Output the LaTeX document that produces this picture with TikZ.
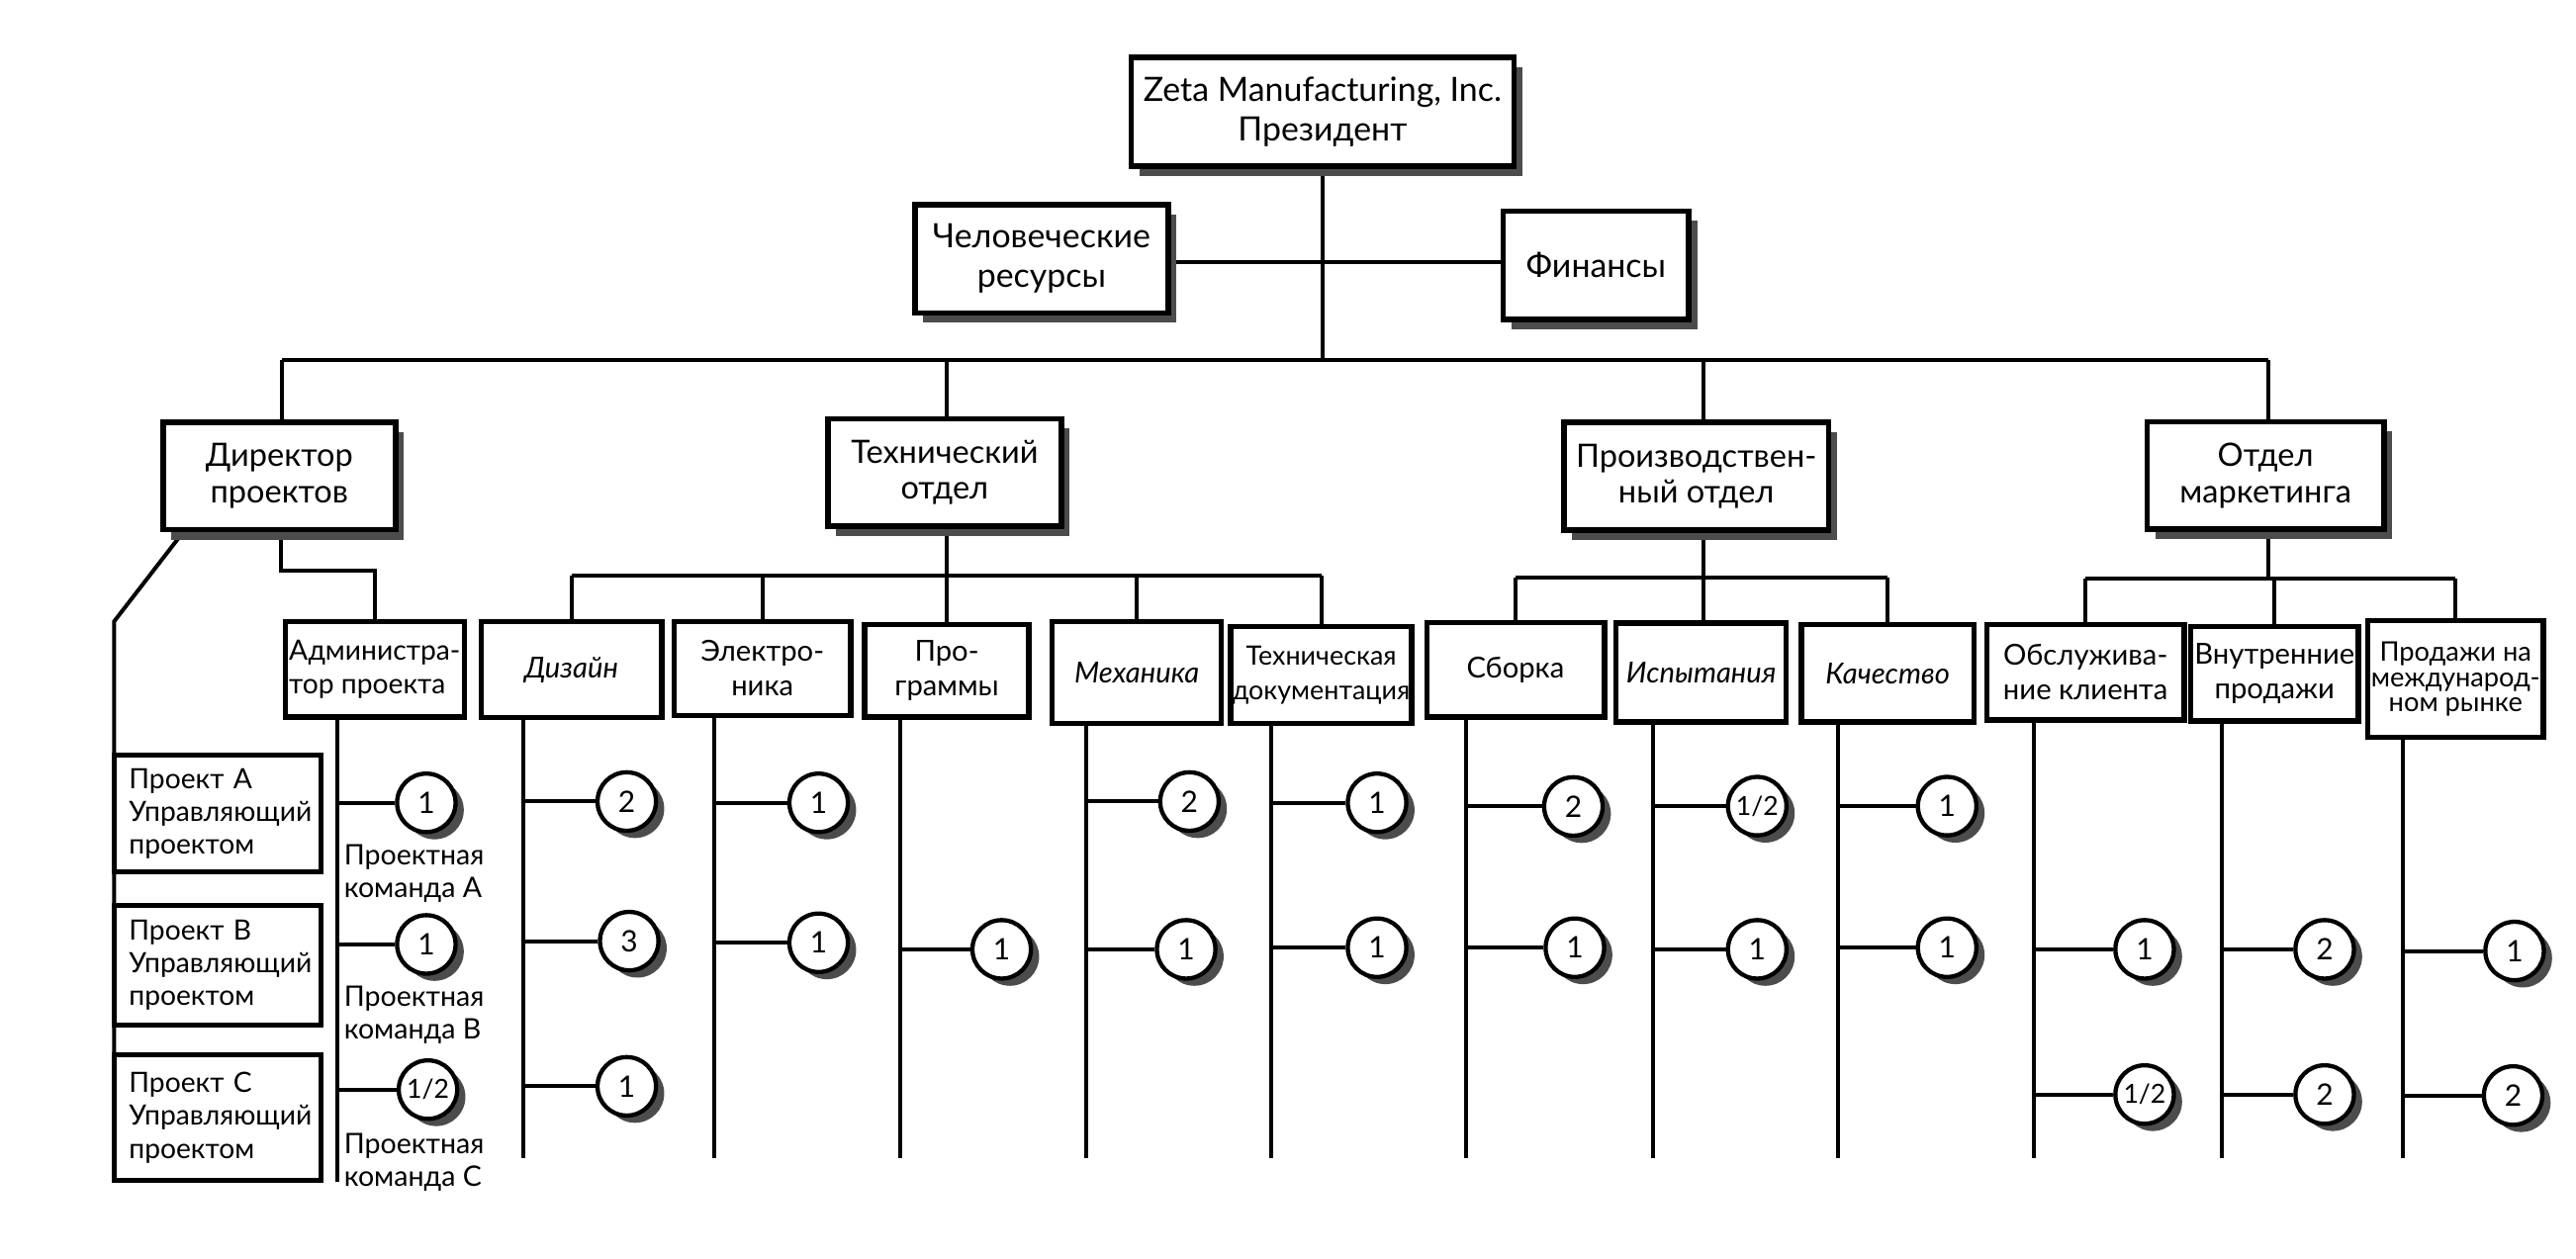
\documentclass[tikz,border=0pt]{standalone}
\usepackage{fontspec}
\setmainfont{Lato}
\usetikzlibrary{shadows}
\pgfdeclarelayer{bg}
\pgfsetlayers{bg,main}
\begin{document}
\begin{tikzpicture}[x=0.5pt,y=-0.5pt,
  conn/.style={line width=1.2pt},
  sz/.style 2 args={minimum width=#1*0.5pt, minimum height=#2*0.5pt},
  shad/.style={drop shadow={shadow xshift=2.5pt, shadow yshift=-3pt, fill=black!70, opacity=1}},
  boxA/.style={draw, line width=1.7pt, fill=white, align=center, inner sep=0pt, font=\fontsize{10.2}{12}\selectfont, shad},
  boxB/.style={draw, line width=1.7pt, fill=white, align=center, inner sep=0pt, font=\fontsize{9.8}{11}\selectfont, shad},
  boxC/.style={draw, line width=1.6pt, fill=white, align=center, inner sep=0pt, font=\fontsize{8.8}{10.5}\selectfont},
  proj/.style={draw, line width=1.5pt, fill=white, align=left, inner xsep=4.5pt, inner ysep=0pt, text width=54pt, font=\fontsize{8.5}{10}\selectfont},
  num/.style={circle, draw, line width=1.3pt, fill=white, minimum size=17.8pt, inner sep=0pt, font=\fontsize{9}{9}\selectfont, drop shadow={shadow xshift=2.5pt, shadow yshift=-2.2pt, fill=black!70, opacity=1}},
  half/.style={num, font=\fontsize{8}{8}\selectfont},
  lbl/.style={align=left, inner sep=0pt, font=\fontsize{8.6}{10}\selectfont}
]
\useasboundingbox (0,0) rectangle (1568,766);

% level 1
\node[boxA, sz={233}{66}] (pres) at (805,68) {Zeta Manufacturing, Inc.\\Президент};
\node[boxA, sz={154}{66}] (hr) at (634,157.5) {Человеческие\\ресурсы};
\node[boxA, sz={113}{66}] (fin) at (971.5,161.5) {Финансы};

% level 2
\node[boxB, sz={141.5}{65.5}] (dir) at (170,289.75) {Директор\\проектов};
\node[boxB, sz={142}{65.5}] (tech) at (575,287.75) {Технический\\отдел};
\node[boxB, sz={161}{65.5}] (prod) at (1032.5,290) {Производствен-\\ный отдел};
\node[boxB, sz={144}{65.5}] (mkt) at (1379,289.5) {Отдел\\маркетинга};

% level 3
\node[boxC, align=left, sz={108.8}{58.2}, font=\fontsize{8.5}{10.5}\selectfont] (ad) at (228.1,407.5) {Администра-\\тор проекта};
\node[boxC, sz={110}{58.6}, font=\fontsize{8.8}{10.5}\selectfont\itshape] (dz) at (347.8,407.7) {Дизайн};
\node[boxC, sz={107.6}{57.2}] (el) at (464.1,407) {Электро-\\ника};
\node[boxC, sz={100}{56.2}] (pg) at (576.3,408.5) {Про-\\граммы};
\node[boxC, sz={103}{62.2}, font=\fontsize{8.8}{10.5}\selectfont\itshape] (mc) at (692,409.5) {Механика};
\node[boxC, sz={110.2}{59.2}, font=\fontsize{8.1}{10.5}\selectfont] (td) at (804.2,411) {Техническая\\документация};
\node[boxC, sz={108.2}{57.6}] (sb) at (922.5,407.8) {Сборка};
\node[boxC, sz={103.7}{60.2}, font=\fontsize{8.8}{10.5}\selectfont\itshape] (is) at (1035.5,409.5) {Испытания};
\node[boxC, sz={105}{59.2}, font=\fontsize{8.8}{10.5}\selectfont\itshape] (kc) at (1149,410) {Качество};
\node[boxC, sz={120.2}{58}] (ob) at (1269.4,409.4) {Обслужива-\\ние клиента};
\node[boxC, sz={102.2}{57.6}] (vn) at (1384.5,410.2) {Внутренние\\продажи};
\node[boxC, sz={106.9}{71.2}, font=\fontsize{8.2}{7.6}\selectfont] (pr) at (1494.7,413.5) {Продажи на\\международ-\\ном рынке};

% project manager boxes
\node[proj, minimum height=35.65pt] (pa) at (132.5,495.3) {Проект A\\Управляющий\\проектом};
\node[proj, minimum height=36.6pt] (pb) at (132.5,587.6) {Проект B\\Управляющий\\проектом};
\node[proj, minimum height=38.15pt] (pc) at (132.5,680.5) {Проект C\\Управляющий\\проектом};

% team labels
\node[lbl, anchor=north west] (la) at (209,514) {Проектная\\команда A};
\node[lbl, anchor=north west] (lb) at (209,600) {Проектная\\команда B};
\node[lbl, anchor=north west] (lc) at (209,689.4) {Проектная\\команда C};

% circles
\node[num] (a1) at (259.5,488.8) {1};
\node[num] (a2) at (259.5,575) {1};
\node[half] (a3) at (260.5,663.4) {1/2};
\node[num] (d1) at (381.5,488) {2};
\node[num] (d2) at (383,573) {3};
\node[num] (d3) at (381.5,661.4) {1};
\node[num] (e1) at (498.3,488.8) {1};
\node[num] (e2) at (498.3,574) {1};
\node[num] (p1) at (609.7,578) {1};
\node[num] (m1) at (724,488) {2};
\node[num] (m2) at (722,578) {1};
\node[num] (t1) at (838.2,488.8) {1};
\node[num] (t2) at (838.2,577) {1};
\node[num] (s1) at (957.7,491) {2};
\node[num] (s2) at (958.6,577) {1};
\node[half] (i1) at (1069.6,490.8) {1/2};
\node[num] (i2) at (1069.6,578) {1};
\node[num] (k1) at (1185.2,490.8) {1};
\node[num] (k2) at (1185.2,577) {1};
\node[num] (o1) at (1305.4,578) {1};
\node[half] (o2) at (1305.4,666.4) {1/2};
\node[num] (v1) at (1415,578) {2};
\node[num] (v2) at (1415,666.4) {2};
\node[num] (r1) at (1530.6,579) {1};
\node[num] (r2) at (1529.7,667) {2};

% coordinates
\coordinate (bus) at (805,219);
\coordinate (b1) at (171.6,219);
\coordinate (b2) at (576,219);
\coordinate (b3) at (1036.6,219);
\coordinate (b4) at (1381,219);
\coordinate (hf) at (805,159.6);
\coordinate (tb) at (576,350.7);
\coordinate (pbus) at (1036.6,351.7);
\coordinate (mb) at (1381,352.3);
\coordinate (ds) at (171.2,347.2);
\coordinate (dg) at (111.3,330);
\coordinate (pl) at (69.5,378.3);
\coordinate (adE) at (205.5,719.6);
\coordinate (dzE) at (318.5,705);
\coordinate (elE) at (434.5,705);
\coordinate (pgE) at (548,705);
\coordinate (mcE) at (661,705);
\coordinate (tdE) at (773.5,705);
\coordinate (sbE) at (892.5,705);
\coordinate (isE) at (1006,705);
\coordinate (kcE) at (1119,705);
\coordinate (obE) at (1238.2,705);
\coordinate (vnE) at (1352.5,705);
\coordinate (prE) at (1462.7,705);

\begin{pgfonlayer}{bg}
\fill[white] (0,0) rectangle (1568,766);
% top
\draw[conn] (pres.south) -- (bus);
\draw[conn] (hr.east |- hf) -- (fin.west |- hf);
\draw[conn] (b1) -- (b4);
\draw[conn] (b1) -- (b1 |- dir.north);
\draw[conn] (b2) -- (b2 |- tech.north);
\draw[conn] (b3) -- (b3 |- prod.north);
\draw[conn] (b4) -- (b4 |- mkt.north);
% technical
\draw[conn] (b2 |- tech.south) -- (tb) -- (tb |- pg.north);
\draw[conn] (dz.north |- tb) -- (td.north |- tb);
\draw[conn] (dz.north |- tb) -- (dz.north);
\draw[conn] (el.north |- tb) -- (el.north);
\draw[conn] (mc.north |- tb) -- (mc.north);
\draw[conn] (td.north |- tb) -- (td.north);
% production
\draw[conn] (b3 |- prod.south) -- (pbus) -- (pbus |- is.north);
\draw[conn] (sb.north |- pbus) -- (kc.north |- pbus);
\draw[conn] (sb.north |- pbus) -- (sb.north);
\draw[conn] (kc.north |- pbus) -- (kc.north);
% marketing
\draw[conn] (b4 |- mkt.south) -- (mb) -- (mb -| vn.north) -- (vn.north);
\draw[conn] (ob.north |- mb) -- (pr.north |- mb);
\draw[conn] (ob.north |- mb) -- (ob.north);
\draw[conn] (pr.north |- mb) -- (pr.north);
% director
\draw[conn] (ds |- dir.south) -- (ds) -- (ds -| ad.north) -- (ad.north);
\draw[conn] (dg |- dir.south) -- (pl) -- (pl |- pc.south);
% columns
\draw[conn] (adE |- ad.south) -- (adE);
\draw[conn] (dzE |- dz.south) -- (dzE);
\draw[conn] (elE |- el.south) -- (elE);
\draw[conn] (pgE |- pg.south) -- (pgE);
\draw[conn] (mcE |- mc.south) -- (mcE);
\draw[conn] (tdE |- td.south) -- (tdE);
\draw[conn] (sbE |- sb.south) -- (sbE);
\draw[conn] (isE |- is.south) -- (isE);
\draw[conn] (kcE |- kc.south) -- (kcE);
\draw[conn] (obE |- ob.south) -- (obE);
\draw[conn] (vnE |- vn.south) -- (vnE);
\draw[conn] (prE |- pr.south) -- (prE);
% circle links
\draw[conn] (a1.west) -- (a1.west -| adE);
\draw[conn] (a2.west) -- (a2.west -| adE);
\draw[conn] (a3.west) -- (a3.west -| adE);
\draw[conn] (d1.west) -- (d1.west -| dzE);
\draw[conn] (d2.west) -- (d2.west -| dzE);
\draw[conn] (d3.west) -- (d3.west -| dzE);
\draw[conn] (e1.west) -- (e1.west -| elE);
\draw[conn] (e2.west) -- (e2.west -| elE);
\draw[conn] (p1.west) -- (p1.west -| pgE);
\draw[conn] (m1.west) -- (m1.west -| mcE);
\draw[conn] (m2.west) -- (m2.west -| mcE);
\draw[conn] (t1.west) -- (t1.west -| tdE);
\draw[conn] (t2.west) -- (t2.west -| tdE);
\draw[conn] (s1.west) -- (s1.west -| sbE);
\draw[conn] (s2.west) -- (s2.west -| sbE);
\draw[conn] (i1.west) -- (i1.west -| isE);
\draw[conn] (i2.west) -- (i2.west -| isE);
\draw[conn] (k1.west) -- (k1.west -| kcE);
\draw[conn] (k2.west) -- (k2.west -| kcE);
\draw[conn] (o1.west) -- (o1.west -| obE);
\draw[conn] (o2.west) -- (o2.west -| obE);
\draw[conn] (v1.west) -- (v1.west -| vnE);
\draw[conn] (v2.west) -- (v2.west -| vnE);
\draw[conn] (r1.west) -- (r1.west -| prE);
\draw[conn] (r2.west) -- (r2.west -| prE);
\end{pgfonlayer}
\end{tikzpicture}
\end{document}
